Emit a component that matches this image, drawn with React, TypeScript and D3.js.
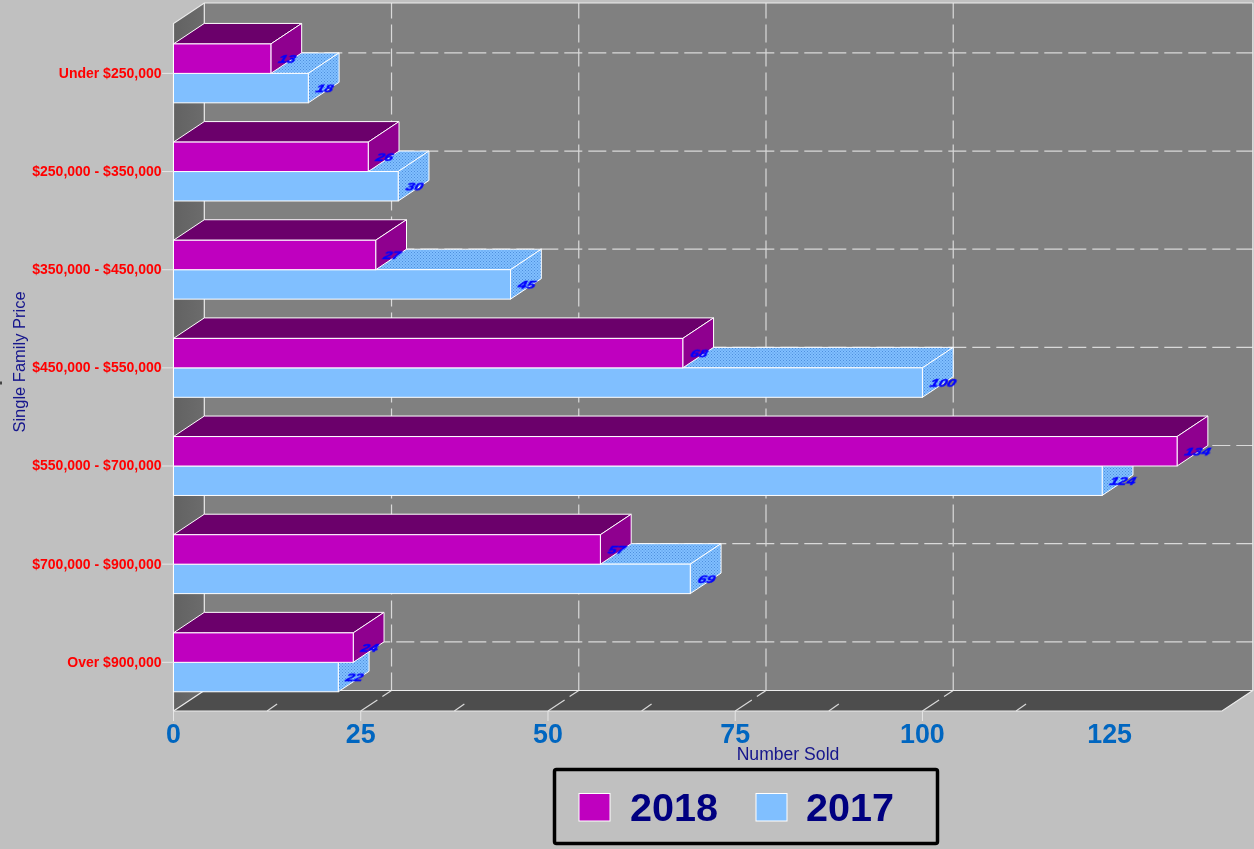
import React from "react";
import * as d3 from "d3";

const categories = ["Under $250,000", "$250,000 - $350,000", "$350,000 - $450,000", "$450,000 - $550,000", "$550,000 - $700,000", "$700,000 - $900,000", "Over $900,000"];
const values2018 = [13, 26, 27, 68, 134, 57, 24];
const values2017 = [18, 30, 45, 100, 124, 69, 22];
const majorTicks = [0, 25, 50, 75, 100, 125];
const gridTicks = [25, 50, 75, 100];
const minorTicks = [12.5, 37.5, 62.5, 87.5, 112.5];
const xTitle = "Number Sold";
const yTitle = "Single Family Price";

const W = 1254, H = 849;
const DX = 30.8, DY = -20.5;
const FONT = "'Liberation Sans', Arial, sans-serif";
const x = d3.scaleLinear().domain([0, 140]).range([173.5, 1222]);
const y = d3.scaleBand<string>().domain(categories).range([24.3, 711.4]).paddingInner(0.4).paddingOuter(0.2);
const yS = d3.scaleBand<string>().domain(["2018", "2017"]).range([0, y.bandwidth()]);
const top3 = 23.5, bot = 711;
const line = d3.line();
const poly = (pts: [number, number][]) => line(pts)! + "Z";
const GRID = "#d9d9d9";

type S = { key: string; vals: number[]; front: string; topFill: string; sideFill: string };
const series: S[] = [
  { key: "2017", vals: values2017, front: "#80bfff", topFill: "url(#dots)", sideFill: "url(#dots)" },
  { key: "2018", vals: values2018, front: "#bf00bf", topFill: "#6b006b", sideFill: "#8f008f" },
];

function Bar({ s, i }: { s: S; i: number }) {
  const cat = categories[i];
  const v = s.vals[i];
  const x0 = x(0), x1 = x(v);
  const y0 = y(cat)! + yS(s.key)!, y1 = y0 + yS.bandwidth();
  return (
    <g stroke="#ffffff" strokeWidth={1}>
      <path d={poly([[x0, y0], [x0 + DX, y0 + DY], [x1 + DX, y0 + DY], [x1, y0]])} fill={s.topFill} />
      <path d={poly([[x1, y0], [x1 + DX, y0 + DY], [x1 + DX, y1 + DY], [x1, y1]])} fill={s.sideFill} />
      <rect x={x0} y={y0} width={x1 - x0} height={y1 - y0} fill={s.front} />
    </g>
  );
}

function ValueLabel({ s, i }: { s: S; i: number }) {
  const v = s.vals[i];
  const sx = x(v) + 8;
  const cy = y(categories[i])! + yS(s.key)! + yS.bandwidth() / 2 + 0.3;
  return (
    <text
      transform={`translate(${sx},${cy}) skewX(-18) scale(1.45,1.02)`}
      textAnchor="start"
      dominantBaseline="central"
      fontFamily={FONT}
      fontWeight="bold"
      fontStyle="italic"
      fontSize={10.5}
      fill="#0000ff"
      stroke="#0000ff"
      strokeWidth={0.45}
      filter="url(#soft)"
    >
      {v}
    </text>
  );
}

export default function App() {
  const xb = x.range()[1];
  return (
    <svg width={W} height={H} viewBox={`0 0 ${W} ${H}`} style={{ position: "absolute", left: 0, top: 0, display: "block" }}>
      <defs>
        <pattern id="dots" width={3} height={3} patternUnits="userSpaceOnUse">
          <rect width={3} height={3} fill="#80bfff" />
          <rect width={1} height={1} fill="#4f8fdc" />
          <rect x={1.5} y={1.5} width={1} height={1} fill="#4f8fdc" />
        </pattern>
        <linearGradient id="wallL" x1="0" x2="1" y1="0" y2="0">
          <stop offset="0" stopColor="#626262" />
          <stop offset="1" stopColor="#6c6c6c" />
        </linearGradient>
        <filter id="soft" x="-20%" y="-20%" width="140%" height="140%">
          <feGaussianBlur stdDeviation={0.35} />
        </filter>
        <filter id="softer" x="-5%" y="-5%" width="110%" height="110%">
          <feGaussianBlur stdDeviation={0.25} />
        </filter>
      </defs>
      <rect width={W} height={H} fill="#c0c0c0" />
      <rect x={0} y={381.5} width={2} height={3} fill="#444444" />

      {/* walls and floor */}
      <rect x={x(0) + DX} y={top3 + DY} width={xb - x(0)} height={bot - top3} fill="#808080" />
      <path d={poly([[x(0), top3], [x(0) + DX, top3 + DY], [x(0) + DX, bot + DY], [x(0), bot]])} fill="url(#wallL)" />
      <path d={poly([[x(0), bot], [x(0) + DX, bot + DY], [xb + DX, bot + DY], [xb, bot]])} fill="#4d4d4d" />

      {/* grid */}
      <g stroke={GRID} strokeWidth={1.2} fill="none" strokeDasharray="18 6">
        {gridTicks.map((t) => (
          <line key={t} x1={x(t) + DX} x2={x(t) + DX} y1={bot + DY} y2={top3 + DY} />
        ))}
        {categories.map((c) => {
          const cy = y(c)! + y.bandwidth() / 2 + DY;
          return <line key={c} x1={x(0) + DX} x2={xb + DX} y1={cy} y2={cy} />;
        })}
        {gridTicks.map((t) => (
          <line key={t} x1={x(t)} y1={bot} x2={x(t) + DX} y2={bot + DY} strokeDasharray="20 6" />
        ))}
        {minorTicks.map((t) => (
          <line key={t} x1={x(t)} y1={bot} x2={x(t) + 10} y2={bot - 7} strokeDasharray="none" />
        ))}
      </g>

      {/* frame */}
      <g stroke="#ececec" strokeWidth={1.2} fill="none">
        <path d={`M${x(0)},${bot}V${top3}L${x(0) + DX},${top3 + DY}H${xb + DX}`} />
        <path d={`M${x(0) + DX},${top3 + DY}V${bot + DY}H${xb + DX}V${top3 + DY}`} />
        <path d={`M${x(0)},${bot}L${x(0) + DX},${bot + DY}`} />
        <path d={`M${x(0)},${bot}H${xb}L${xb + DX},${bot + DY}`} />
      </g>

      {/* bars */}
      {categories.map((c, i) => (
        <g key={c}>
          {series.map((s) => (
            <Bar key={s.key} s={s} i={i} />
          ))}
        </g>
      ))}
      {categories.map((c, i) => (
        <g key={c}>
          {series.map((s) => (
            <ValueLabel key={s.key} s={s} i={i} />
          ))}
        </g>
      ))}

      {/* category axis */}
      <g filter="url(#softer)">
        {categories.map((c) => {
          const cy = y(c)! + y.bandwidth() / 2;
          return (
            <g key={c}>
              <line x1={162} x2={x(0)} y1={cy} y2={cy} stroke="#e6e6e6" strokeWidth={1} />
              <text x={161.5} y={cy - 0.6} textAnchor="end" dominantBaseline="central" fontFamily={FONT} fontWeight="bold" fontSize={14} fill="#ff0000">
                {c}
              </text>
            </g>
          );
        })}

        {/* value axis */}
        {majorTicks.map((t) => (
          <g key={t}>
            {t < 125 && <line x1={x(t)} x2={x(t)} y1={bot} y2={bot + 10} stroke="#e6e6e6" strokeWidth={1} />}
            <text x={x(t)} y={734} textAnchor="middle" dominantBaseline="central" fontFamily={FONT} fontWeight="bold" fontSize={26.8} fill="#0066c0">
              {t}
            </text>
          </g>
        ))}

        <text x={788} y={753.5} textAnchor="middle" dominantBaseline="central" fontFamily={FONT} fontSize={17.6} fill="#14148c">
          {xTitle}
        </text>
        <text transform="translate(19,362) rotate(-90)" textAnchor="middle" dominantBaseline="central" fontFamily={FONT} fontSize={16.5} fill="#14148c">
          {yTitle}
        </text>

        {/* legend */}
        <rect x={554.5} y={769.5} width={383} height={74} rx={2} fill="none" stroke="#000000" strokeWidth={3.5} />
        {series
          .slice()
          .reverse()
          .map((s, k) => {
            const sx = k === 0 ? 579 : 756;
            const tx = k === 0 ? 630 : 806;
            return (
              <g key={s.key}>
                <rect x={sx} y={793.5} width={31} height={27.5} fill={s.front} stroke="#ffffff" strokeWidth={1} />
                <text x={tx} y={807} dominantBaseline="central" fontFamily={FONT} fontWeight="bold" fontSize={39.6} fill="#000080">
                  {s.key}
                </text>
              </g>
            );
          })}
      </g>
    </svg>
  );
}
